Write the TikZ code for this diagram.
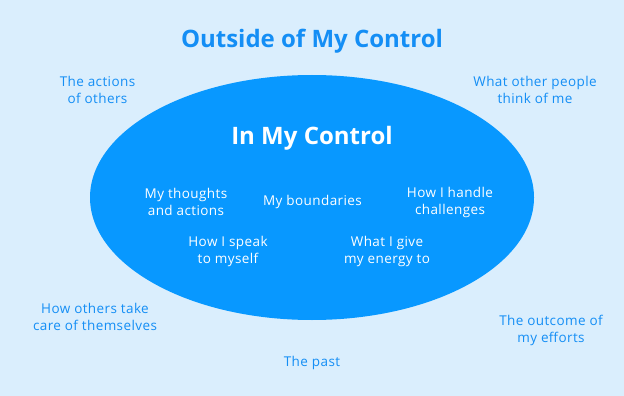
\documentclass[tikz,border=0pt]{standalone}
\usepackage{fontspec}
\setmainfont{Open Sans}
\newfontfamily\smallfont[LetterSpace=3]{Open Sans}
\usetikzlibrary{shapes.geometric}
\definecolor{bgblue}{HTML}{DAEEFD}
\definecolor{ellblue}{HTML}{0898FF}
\definecolor{txtblue}{HTML}{148EF5}
\tikzset{
  outer/.style={text=txtblue, align=center, font=\smallfont\fontsize{13.5}{17}\selectfont, inner sep=0pt},
  inner/.style={text=white, align=center, font=\smallfont\fontsize{13.5}{17}\selectfont, inner sep=0pt},
  bigtitle/.style={font=\fontsize{24}{28}\selectfont\bfseries, inner sep=0pt}
}
\begin{document}
\begin{tikzpicture}[x=1pt,y=-1pt]
\fill[bgblue] (0,0) rectangle (624,396);
\useasboundingbox (0,0) rectangle (624,396);
\node[fill=ellblue, ellipse, minimum width=444pt, minimum height=245pt, inner sep=0pt] (ell) at (312,197.5) {};
\node[bigtitle, text=txtblue] (out) at (312,41.5) {Outside of My Control};
\node[bigtitle, text=white] (in) at (312,138) {In My Control};
\node[inner] (thoughts) at (186,202) {My thoughts\\and actions};
\node[inner] (bound) at (312.5,202) {My boundaries};
\node[inner] (handle) at (450,202) {How I handle\\challenges};
\node[inner] (speak) at (228,251.5) {How I speak\\to myself};
\node[inner] (energy) at (387,251.5) {What I give\\my energy to};
\node[outer] (actions) at (97.5,90) {The actions\\of others};
\node[outer] (people) at (535,90) {What other people\\think of me};
\node[outer] (care) at (95,316.5) {How others take\\care of themselves};
\node[outer] (outcome) at (551,330.5) {The outcome of\\my efforts};
\node[outer] (past) at (312,363) {The past};
\end{tikzpicture}
\end{document}
